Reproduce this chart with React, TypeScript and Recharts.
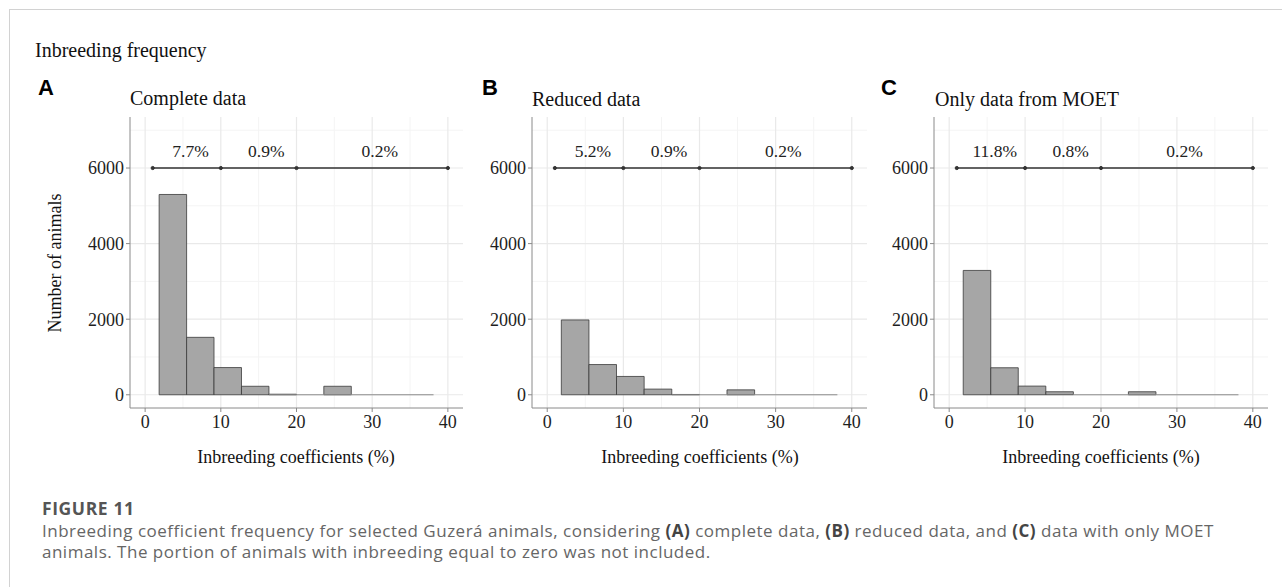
import React from 'react';
import { ComposedChart, XAxis, YAxis, Line, Scatter, ReferenceArea, ReferenceLine, CartesianGrid } from 'recharts';

const binEdges = [1.85, 5.48, 9.1, 12.73, 16.36, 19.99, 23.61, 27.24, 30.86, 34.49, 38.11];
const countsA = [5300, 1520, 720, 225, 15, 0, 225, 0, 0, 0];
const countsB = [1980, 800, 485, 150, 8, 0, 130, 0, 0, 0];
const countsC = [3290, 715, 230, 80, 0, 0, 80, 0, 0, 0];
const bracketX = [1, 10, 20, 40];
const bracketY = 6000;
const labelX = [6, 16, 31];
const labelY = 6450;
const labelsA = ['7.7%', '0.9%', '0.2%'];
const labelsB = ['5.2%', '0.9%', '0.2%'];
const labelsC = ['11.8%', '0.8%', '0.2%'];
const xTicks = [0, 10, 20, 30, 40];
const yTicks = [0, 2000, 4000, 6000];
const xMinor = [5, 15, 25, 35];
const yMinor = [1000, 3000, 5000, 7000];

const SERIF = '"Liberation Serif", "Times New Roman", serif';
const SANS = '"Liberation Sans", Arial, sans-serif';
const CAP = '"Open Sans", "Noto Sans", sans-serif';

const tickStyle = { fill: '#1e1e1e', fontSize: 18, fontFamily: SERIF };

function LabelShape(props: any) {
  const { cx, cy, payload } = props;
  return (
    <text x={cx} y={cy} textAnchor="middle" dominantBaseline="central" fill="#222" fontSize={17.5} fontFamily={SERIF}>
      {payload.label}
    </text>
  );
}

function Panel({ left, width, counts, labels }: { left: number; width: number; counts: number[]; labels: string[] }) {
  const bracket = bracketX.map((x) => ({ x, y: bracketY }));
  const labelPts = labelX.map((x, i) => ({ x, y: labelY, label: labels[i] }));
  return (
    <div style={{ position: 'absolute', left, top: 100, width, height: 350 }}>
      <ComposedChart width={width} height={350} data={bracket} margin={{ top: 17, right: 7, bottom: 12, left: 10 }}>
        <CartesianGrid horizontalValues={yMinor} verticalValues={xMinor} stroke="#f4f4f4" strokeWidth={1} />
        <CartesianGrid horizontalValues={yTicks} verticalValues={xTicks} stroke="#e9e9e9" strokeWidth={1.2} />
        <XAxis
          dataKey="x"
          type="number"
          domain={[-2, 42]}
          ticks={xTicks}
          allowDataOverflow
          height={30}
          tickSize={4}
          tickMargin={3}
          axisLine={{ stroke: '#8a8a8a', strokeWidth: 1 }}
          tickLine={{ stroke: '#8a8a8a' }}
          tick={tickStyle}
        />
        <YAxis
          dataKey="y"
          type="number"
          domain={[-350, 7350]}
          ticks={yTicks}
          allowDataOverflow
          width={50}
          tickSize={4}
          tickMargin={2}
          axisLine={{ stroke: '#8a8a8a', strokeWidth: 1 }}
          tickLine={{ stroke: '#8a8a8a' }}
          tick={tickStyle}
        />
        {counts.map((c, i) =>
          c > 0 ? (
            <ReferenceArea
              key={'bin' + i}
              x1={binEdges[i]}
              x2={binEdges[i + 1]}
              y1={0}
              y2={c}
              fill="#a6a6a6"
              fillOpacity={1}
              stroke="#3a3a3a"
              strokeWidth={0.8}
            />
          ) : null
        )}
        <ReferenceLine
          segment={[
            { x: binEdges[4], y: 0 },
            { x: binEdges[binEdges.length - 1], y: 0 },
          ]}
          stroke="#8c8c8c"
          strokeWidth={1}
        />
        <Line
          dataKey="y"
          stroke="#333"
          strokeWidth={1.6}
          dot={{ r: 1.6, fill: '#333', stroke: '#333', strokeWidth: 1 }}
          isAnimationActive={false}
        />
        <Scatter data={labelPts} shape={<LabelShape />} isAnimationActive={false} />
      </ComposedChart>
    </div>
  );
}

export default function App() {
  return (
    <div style={{ position: 'absolute', left: 0, top: 0, width: 1282, height: 587, background: '#fff', overflow: 'hidden' }}>
      <div
        style={{
          position: 'absolute',
          left: 9,
          top: 9,
          width: 1282 - 9,
          height: 587 - 9,
          borderTop: '1px solid #d2d2d2',
          borderLeft: '1px solid #d2d2d2',
        }}
      />
      <Panel left={70} width={400} counts={countsA} labels={labelsA} />
      <Panel left={472} width={402} counts={countsB} labels={labelsB} />
      <Panel left={874} width={401} counts={countsC} labels={labelsC} />
      <svg width={1282} height={587} style={{ position: 'absolute', left: 0, top: 0, pointerEvents: 'none' }}>
        <text x={35} y={57} fontSize={20} fontFamily={SERIF} fill="#111">Inbreeding frequency</text>
        <text x={38} y={95} fontSize={22} fontWeight="bold" fontFamily={SANS} fill="#000">A</text>
        <text x={482} y={95} fontSize={22} fontWeight="bold" fontFamily={SANS} fill="#000">B</text>
        <text x={881} y={95} fontSize={22} fontWeight="bold" fontFamily={SANS} fill="#000">C</text>
        <text x={130} y={105} fontSize={20} fontFamily={SERIF} fill="#111">Complete data</text>
        <text x={532} y={106} fontSize={20} fontFamily={SERIF} fill="#111">Reduced data</text>
        <text x={935} y={106} fontSize={20} fontFamily={SERIF} fill="#111">Only data from MOET</text>
        <text
          x={0}
          y={0}
          transform="translate(61,263) rotate(-90)"
          textAnchor="middle"
          fontSize={18}
          fontFamily={SERIF}
          fill="#111"
        >
          Number of animals
        </text>
        <text x={296} y={463} textAnchor="middle" fontSize={18} fontFamily={SERIF} fill="#111">Inbreeding coefficients (%)</text>
        <text x={700} y={463} textAnchor="middle" fontSize={18} fontFamily={SERIF} fill="#111">Inbreeding coefficients (%)</text>
        <text x={1101} y={463} textAnchor="middle" fontSize={18} fontFamily={SERIF} fill="#111">Inbreeding coefficients (%)</text>
        <text x={42} y={515} fontSize={17.5} fontWeight={700} letterSpacing={0.6} fontFamily={CAP} fill="#555">FIGURE 11</text>
        <text x={42} y={537} fontSize={17} letterSpacing={0.5} fontFamily={CAP} fill="#666">
          Inbreeding coefficient frequency for selected Guzerá animals, considering{' '}
          <tspan fontWeight={700} fill="#444">(A)</tspan> complete data, <tspan fontWeight={700} fill="#444">(B)</tspan> reduced data, and{' '}
          <tspan fontWeight={700} fill="#444">(C)</tspan> data with only MOET
        </text>
        <text x={42} y={558} fontSize={17} letterSpacing={0.5} fontFamily={CAP} fill="#666">
          animals. The portion of animals with inbreeding equal to zero was not included.
        </text>
      </svg>
    </div>
  );
}
